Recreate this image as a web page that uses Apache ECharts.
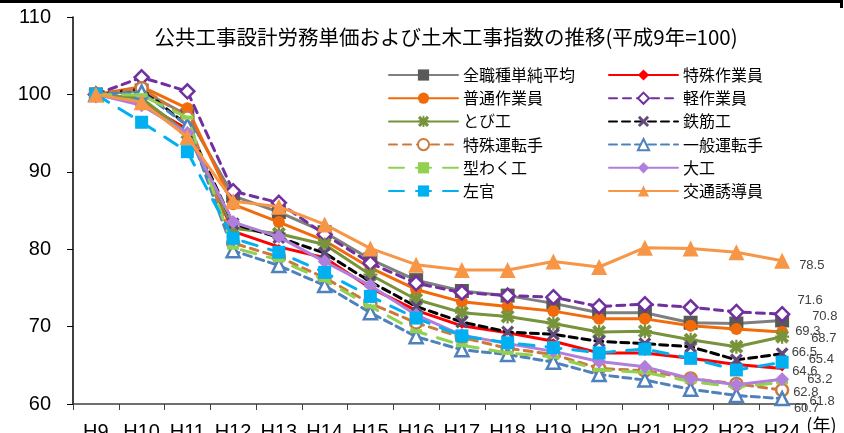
<!DOCTYPE html>
<html><head><meta charset="utf-8">
<script src="https://cdn.jsdelivr.net/npm/echarts@6/dist/echarts.min.js"></script>
<style>html,body{margin:0;padding:0;background:#fff}#c{width:844px;height:433px}</style>
</head><body><div id="c"></div>
<script>
// ---- data ----
const categories = ['H9','H10','H11','H12','H13','H14','H15','H16','H17','H18','H19','H20','H21','H22','H23','H24'];
const yTicks = [60, 70, 80, 90, 100, 110];
const titleText = '公共工事設計労務単価および土木工事指数の推移(平成9年=100)';
const seriesNames = ['全職種単純平均','特殊作業員','普通作業員','軽作業員','とび工','鉄筋工','特殊運転手','一般運転手','型わく工','大工','左官','交通誘導員'];
const zenshokushu   = [100, 100.5, 97.3, 86.9, 84.8, 82.2, 78.7, 76.0, 74.6, 74.0, 73.0, 71.8, 71.8, 70.5, 70.4, 70.8];
const tokushuSagyo  = [100, 98.9, 95.5, 82.3, 80.3, 78.9, 75.0, 72.1, 70.1, 69.2, 68.1, 66.6, 66.6, 65.9, 65.1, 64.6];
const futsuSagyo    = [100, 101.0, 98.2, 85.8, 83.5, 81.1, 77.6, 74.8, 73.2, 72.6, 72.0, 71.0, 71.0, 70.1, 69.7, 69.3];
const keiSagyo      = [100, 102.2, 100.4, 87.5, 86.0, 81.9, 78.2, 75.6, 74.4, 74.0, 73.8, 72.6, 72.9, 72.5, 71.9, 71.6];
const tobi          = [100, 99.5, 95.0, 82.7, 82.0, 80.6, 76.7, 73.5, 71.8, 71.3, 70.4, 69.3, 69.4, 68.3, 67.4, 68.7];
const tekkin        = [100, 100.7, 96.0, 83.3, 81.5, 79.5, 75.8, 72.6, 70.6, 69.3, 69.0, 68.1, 67.8, 67.4, 65.7, 66.5];
const tokushuUnten  = [100, 100.8, 97.0, 80.8, 79.0, 76.3, 73.0, 70.5, 68.6, 67.2, 66.4, 64.6, 64.3, 63.3, 62.6, 61.8];
const ippanUnten    = [100, 100.3, 96.0, 79.8, 77.9, 75.3, 71.8, 68.7, 67.0, 66.4, 65.4, 63.8, 63.1, 61.9, 61.1, 60.7];
const katawaku      = [100, 99.9, 97.0, 80.2, 78.6, 76.0, 72.6, 69.4, 67.6, 66.6, 66.1, 64.4, 64.1, 62.9, 62.2, 62.8];
const daiku         = [100, 98.6, 95.0, 83.5, 81.6, 78.4, 75.3, 71.5, 68.9, 67.8, 66.8, 65.5, 64.8, 63.3, 62.5, 63.2];
const sakan         = [100, 96.4, 92.6, 81.4, 79.6, 77.0, 73.9, 71.1, 68.8, 67.9, 67.3, 66.6, 67.1, 65.9, 64.4, 65.4];
const kotsuYudo     = [100, 99.0, 94.5, 86.2, 85.5, 83.2, 80.1, 78.0, 77.3, 77.3, 78.4, 77.7, 80.2, 80.1, 79.6, 78.5];
const allValues = [zenshokushu, tokushuSagyo, futsuSagyo, keiSagyo, tobi, tekkin, tokushuUnten, ippanUnten, katawaku, daiku, sakan, kotsuYudo];

// ---- styles ----
const asterisk = 'path://M2,0 L5,3 L8,0 L10,2 L7,5 L10,8 L8,10 L5,7 L2,10 L0,8 L3,5 L0,2 Z M4.2,0 L5.8,0 L5.8,10 L4.2,10 Z M0,4.2 L10,4.2 L10,5.8 L0,5.8 Z';
const xMark = 'path://M1.8,0 L5,3.2 L8.2,0 L10,1.8 L6.8,5 L10,8.2 L8.2,10 L5,6.8 L1.8,10 L0,8.2 L3.2,5 L0,1.8 Z';
const styles = [
  {c:'#7f7f7f', mc:'#595959', sym:'rect', size:14, type:'solid', off:[23,-4]},
  {c:'#ff0000', mc:'#ff0000', sym:'diamond', size:6, type:'solid', off:[7,3]},
  {c:'#f26b0a', mc:'#f26b0a', sym:'circle', size:12, type:'solid', off:[7,-1]},
  {c:'#7030a0', mc:'#ffffff', bc:'#7030a0', sym:'diamond', size:14, type:[8,6], off:[7,-14]},
  {c:'#77933c', mc:'#77933c', sym:asterisk, size:14, type:'solid', off:[22,2]},
  {c:'#000000', mc:'#604a7b', sym:xMark, size:13, type:[8,5], off:[3,-1]},
  {c:'#cc7a3c', mc:'#ffffff', bc:'#cc7a3c', sym:'circle', size:12, type:[8,6], off:[20,11]},
  {c:'#4f81bd', mc:'#ffffff', bc:'#4f81bd', sym:'triangle', size:13, type:[8,5], off:[4,10]},
  {c:'#92d050', mc:'#92d050', sym:'rect', size:[12,4], type:[15,12], off:[5,10]},
  {c:'#b07fdb', mc:'#b07fdb', sym:'diamond', size:14, type:'solid', off:[18,0]},
  {c:'#00b0f0', mc:'#00b0f0', sym:'rect', size:13, type:[15,12], off:[20,-3]},
  {c:'#f79646', mc:'#f79646', sym:'triangle', size:16, type:'solid', off:[9,5]}
];

const FONT = '"Liberation Sans", Arial, sans-serif';
const CJK = '"Noto Sans CJK JP", sans-serif';
const last = categories.length - 1;

const series = seriesNames.map((name, i) => {
  const s = styles[i];
  return {
    name, type: 'line',
    data: allValues[i].map((v, k) => k === last ? {
      value: v,
      label: {show: true, position: 'right', distance: 0, offset: s.off,
        formatter: p => p.value.toFixed(1), fontSize: 13, color: '#404040', fontFamily: FONT}
    } : v),
    symbol: s.sym, symbolSize: s.size, showAllSymbol: true,
    lineStyle: {color: s.c, width: 3, type: s.type, cap: 'round'},
    itemStyle: {color: s.mc, borderColor: s.bc || s.mc, borderWidth: s.bc ? 2.5 : 0},
    emphasis: {disabled: true},
    animation: false, z: 2 + i * 0.01
  };
});

const legendCommon = {
  orient: 'vertical', itemWidth: 69, itemHeight: 14, itemGap: 7.2, itemTextGap: 8,
  textStyle: {fontSize: 16, fontFamily: CJK, color: '#000', lineHeight: 16},
  selectedMode: false
};

const chart = echarts.init(document.getElementById('c'), null, {renderer: 'canvas'});
chart.setOption({
  backgroundColor: '#fff',
  animation: false,
  title: {text: titleText, left: 441, top: 22, textAlign: 'center',
    textStyle: {fontSize: 20.5, fontWeight: 'normal', fontFamily: CJK, color: '#000'}},
  legend: [
    Object.assign({left: 383, top: 62, data: seriesNames.filter((n, i) => i % 2 === 0)}, legendCommon),
    Object.assign({left: 603, top: 62, data: seriesNames.filter((n, i) => i % 2 === 1)}, legendCommon)
  ],
  grid: {left: 73, right: 39, top: 17, bottom: 29, containLabel: false, outerBoundsMode: 'none'},
  xAxis: {
    type: 'category', data: categories, boundaryGap: true,
    name: '(年)', nameLocation: 'end', nameGap: -4,
    nameTextStyle: {fontSize: 18, fontFamily: CJK, color: '#000', align: 'left', verticalAlign: 'top', padding: [12, 0, 0, 0]},
    axisLine: {lineStyle: {color: '#404040', width: 1.5}},
    axisTick: {show: true, interval: 0, length: 6, lineStyle: {color: '#404040'}},
    axisLabel: {interval: 0, fontSize: 20, fontFamily: FONT, color: '#000', margin: 18},
    splitLine: {show: false}
  },
  yAxis: {
    type: 'value', min: yTicks[0], max: yTicks[yTicks.length - 1], interval: 10,
    axisLine: {show: true, lineStyle: {color: '#000', width: 1.5}},
    axisTick: {show: true, length: 6, lineStyle: {color: '#000'}},
    axisLabel: {fontSize: 20, fontFamily: FONT, color: '#000', margin: 22},
    splitLine: {show: false}
  },
  graphic: [{
    type: 'polyline', silent: true,
    shape: {points: [[0, 1.5], [841.5, 1.5], [841.5, 8]]},
    style: {stroke: '#000', lineWidth: 3, fill: null}
  }],
  series
});
</script></body></html>
